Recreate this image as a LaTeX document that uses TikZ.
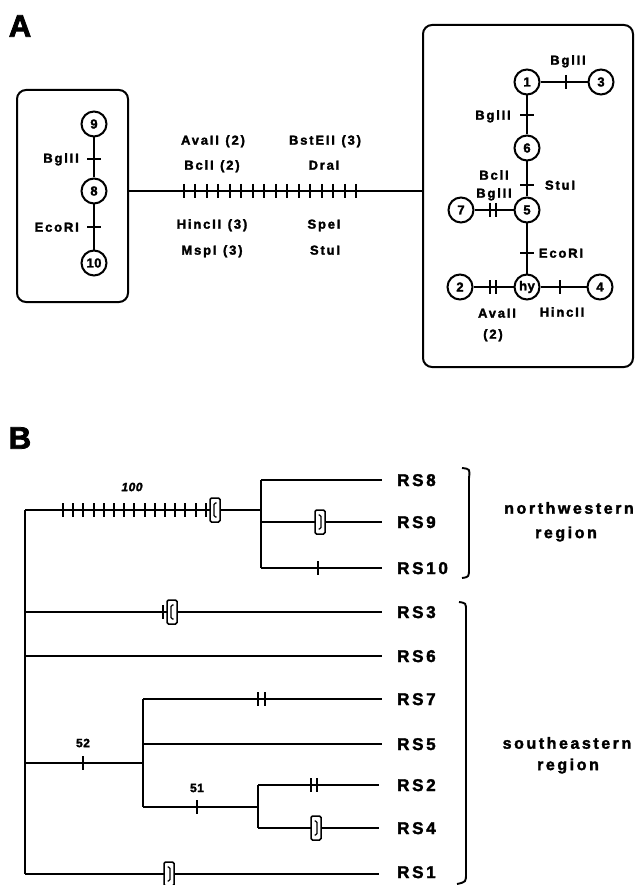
\documentclass[tikz,border=0pt]{standalone}
\usepackage{fontspec}
\setmainfont{Liberation Sans}[BoldFeatures={FakeBold=2.5}]
\newfontfamily\lblfont{Liberation Sans}[LetterSpace=14,BoldFeatures={FakeBold=2}]
\newfontfamily\rsfont{Liberation Sans}[LetterSpace=16,BoldFeatures={FakeBold=2}]
\newfontfamily\numfont{Liberation Sans}[LetterSpace=4,BoldFeatures={FakeBold=2},BoldItalicFeatures={FakeBold=2}]
\begin{document}
\begin{tikzpicture}[x=1pt,y=-1pt,
  ln/.style={line width=2pt},
  tl/.style={line width=1.9pt},
  site/.style={circle,draw,line width=2pt,minimum size=25pt,inner sep=0pt,fill=white,
    font=\numfont\bfseries\fontsize{13}{13}\selectfont},
  lbl/.style={inner sep=0pt,text height=9.3pt,text depth=0pt,
    font=\lblfont\bfseries\fontsize{13}{14}\selectfont},
  rs/.style={inner sep=0pt,anchor=west,text height=12pt,text depth=0pt,
    font=\rsfont\bfseries\fontsize{17}{18}\selectfont},
  reg/.style={inner sep=0pt,font=\rsfont\bfseries\fontsize{16}{18}\selectfont},
  panel/.style={inner sep=0pt,font=\bfseries\fontsize{31}{31}\selectfont},
  grp/.style={draw,line width=2pt,rounded corners=9pt,inner sep=0pt},
  boot/.style={inner sep=0pt,font=\numfont\bfseries\fontsize{12}{12}\selectfont},
  mboxl/.style={draw,fill=white,line width=1.5pt,rounded corners=1.5pt,minimum width=10pt,
    minimum height=24pt,inner sep=0pt,
    path picture={\draw[line width=1.2pt]
      ([shift={(6.5pt,-5pt)}]path picture bounding box.north west) --
      ([shift={(4pt,-5pt)}]path picture bounding box.north west) --
      ([shift={(4pt,5pt)}]path picture bounding box.south west) --
      ([shift={(6.5pt,5pt)}]path picture bounding box.south west);}},
  mboxr/.style={draw,fill=white,line width=1.5pt,rounded corners=1.5pt,minimum width=10pt,
    minimum height=24pt,inner sep=0pt,
    path picture={\draw[line width=1.2pt]
      ([shift={(3.5pt,-5pt)}]path picture bounding box.north west) --
      ([shift={(6pt,-5pt)}]path picture bounding box.north west) --
      ([shift={(6pt,5pt)}]path picture bounding box.south west) --
      ([shift={(3.5pt,5pt)}]path picture bounding box.south west);}},
]
\useasboundingbox (0,0) rectangle (642,885);
\fill[white] (0,0) rectangle (642,885);

% ================= Panel A =================
\node[panel] (pA) at (20,26) {A};

% left group
\node[grp,minimum width=111pt,minimum height=212pt] (lbox) at (72.5,196) {};
\node[site] (n9) at (94,124) {9};
\node[site] (n8) at (94,191) {8};
\node[site] (n10) at (94,263) {10};
\draw[ln] (n9) -- (n8);
\draw[ln] (n8) -- (n10);
\draw[ln] (87,159) -- (101,159);
\draw[ln] (87,227) -- (101,227);
\node[lbl,anchor=east] (lBg) at (79,158) {BglII};
\node[lbl,anchor=east] (lEc) at (79,227) {EcoRI};

% right group
\node[grp,minimum width=210pt,minimum height=342pt] (rbox) at (528,196) {};
\node[site] (n1) at (527,82) {1};
\node[site] (n3) at (601,82) {3};
\node[site] (n6) at (527,148) {6};
\node[site] (n5) at (527,210) {5};
\node[site] (n7) at (461,210) {7};
\node[site] (nhy) at (527,287) {hy};
\node[site] (n2) at (460,287) {2};
\node[site] (n4) at (600,287) {4};
\draw[ln] (n1) -- (n3);
\draw[ln] (n1) -- (n6);
\draw[ln] (n6) -- (n5);
\draw[ln] (n7) -- (n5);
\draw[ln] (n5) -- (nhy);
\draw[ln] (n2) -- (nhy);
\draw[ln] (nhy) -- (n4);
% site marks
\draw[ln] (566,75) -- (566,89);
\draw[ln] (520,115) -- (534,115);
\draw[ln] (520,185) -- (534,185);
\draw[ln] (490,203) -- (490,217);
\draw[ln] (496,203) -- (496,217);
\draw[ln] (520,253) -- (534,253);
\draw[ln] (490,280) -- (490,294);
\draw[ln] (496,280) -- (496,294);
\draw[ln] (560,280) -- (560,294);
\node[lbl] (rBg1) at (568,60) {BglII};
\node[lbl] (rBg2) at (493,115) {BglII};
\node[lbl] (rBc) at (494,175) {BclI};
\node[lbl] (rBg3) at (494,193) {BglII};
\node[lbl] (rSt) at (560,185) {StuI};
\node[lbl] (rEc) at (561,253) {EcoRI};
\node[lbl] (rAv) at (497,313) {AvaII};
\node[lbl] (rAv2) at (493,334) {(2)};
\node[lbl] (rHi) at (562,312) {HincII};

% connecting branch with 16 sites
\draw[ln] (lbox.east |- n8) -- (rbox.west |- n8);
\foreach \i in {0,...,15} \draw[ln] ({184+\i*11.47},184) -- ({184+\i*11.47},198);
\node[lbl] (mAv) at (213,140) {AvaII\hspace{0.5em}(2)};
\node[lbl] (mBs) at (325,140) {BstEII\hspace{0.5em}(3)};
\node[lbl] (mBc) at (212,165) {BclI\hspace{0.5em}(2)};
\node[lbl] (mDr) at (324,165) {DraI};
\node[lbl] (mHi) at (212,224) {HincII\hspace{0.5em}(3)};
\node[lbl] (mSp) at (324,224) {SpeI};
\node[lbl] (mMs) at (212,250) {MspI\hspace{0.5em}(3)};
\node[lbl] (mSt) at (325,250) {StuI};

% ================= Panel B =================
\node[panel] (pB) at (20,438) {B};

\coordinate (Rt) at (25,510);
\coordinate (Rb) at (25,874);
\coordinate (NWj) at (261,510);
\coordinate (NWt) at (261,480);
\coordinate (NWm) at (261,522);
\coordinate (NWb) at (261,568);
\coordinate (R3) at (25,612);
\coordinate (R6) at (25,656);
\coordinate (R52) at (25,763);
\coordinate (SEj) at (143,763);
\coordinate (SEt) at (143,699);
\coordinate (SEm) at (143,744);
\coordinate (SEb) at (143,807);
\coordinate (J51) at (258,807);
\coordinate (J51t) at (258,785);
\coordinate (J51b) at (258,828);

\node[rs] (RS8) at (397,480) {RS8};
\node[rs] (RS9) at (397,522) {RS9};
\node[rs] (RS10) at (397,568) {RS10};
\node[rs] (RS3) at (397,612) {RS3};
\node[rs] (RS6) at (397,656) {RS6};
\node[rs] (RS7) at (397,699) {RS7};
\node[rs] (RS5) at (397,744) {RS5};
\node[rs] (RS2) at (397,785) {RS2};
\node[rs] (RS4) at (397,828) {RS4};
\node[rs] (RS1) at (397,872) {RS1};

% tree
\draw[tl] (Rt) -- (Rb);
\draw[tl] (Rt) -- (NWj);
\draw[tl] (NWt) -- (NWb);
\draw[tl] (NWt) -- ([xshift=-15pt]RS8.west);
\draw[tl] (NWm) -- ([xshift=-15pt]RS9.west);
\draw[tl] (NWb) -- ([xshift=-15pt]RS10.west);
\draw[tl] (R3) -- ([xshift=-15pt]RS3.west);
\draw[tl] (R6) -- ([xshift=-15pt]RS6.west);
\draw[tl] (R52) -- (SEj);
\draw[tl] (SEt) -- (SEb);
\draw[tl] (SEt) -- ([xshift=-15pt]RS7.west);
\draw[tl] (SEm) -- ([xshift=-15pt]RS5.west);
\draw[tl] (SEb) -- (J51);
\draw[tl] (J51t) -- (J51b);
\draw[tl] (J51t) -- ([xshift=-18pt]RS2.west);
\draw[tl] (J51b) -- ([xshift=-18pt]RS4.west);
\draw[tl] (Rb) -- ([xshift=-18pt]RS1.west |- Rb);

% marks
\foreach \i in {0,...,14} \draw[tl] ({63+\i*10.2},503) -- ({63+\i*10.2},517);
\draw[tl] (318,561) -- (318,575);
\draw[tl] (163,605) -- (163,619);
\draw[tl] (258,692) -- (258,706);
\draw[tl] (265,692) -- (265,706);
\draw[tl] (83,756) -- (83,770);
\draw[tl] (197,800) -- (197,814);
\draw[tl] (311,778) -- (311,792);
\draw[tl] (317,778) -- (317,792);
\node[mboxl] (bx1) at (215,510) {};
\node[mboxr] (bx2) at (320,522) {};
\node[mboxl] (bx3) at (172,612) {};
\node[mboxr] (bx4) at (316,828) {};
\node[mboxr] (bx5) at (169,874) {};
\node[boot,font=\numfont\bfseries\itshape\fontsize{12}{12}\selectfont] (b100) at (132,487) {100};
\node[boot] (b52) at (83,743) {52};
\node[boot] (b51) at (197,788) {51};

% region braces
\draw[tl] (462,468) .. controls (470,469) .. (469,478) -- (469,568) .. controls (469,577) .. (462,578);
\draw[tl] (459,602) .. controls (466,603) .. (466,611) -- (466,873) .. controls (466,882) .. (457,884);
\node[reg] (nw1) at (569,508) {northwestern};
\node[reg] (nw2) at (566,534) {region};
\node[reg] (se1) at (567,743) {southeastern};
\node[reg] (se2) at (568,766) {region};
\end{tikzpicture}
\end{document}
